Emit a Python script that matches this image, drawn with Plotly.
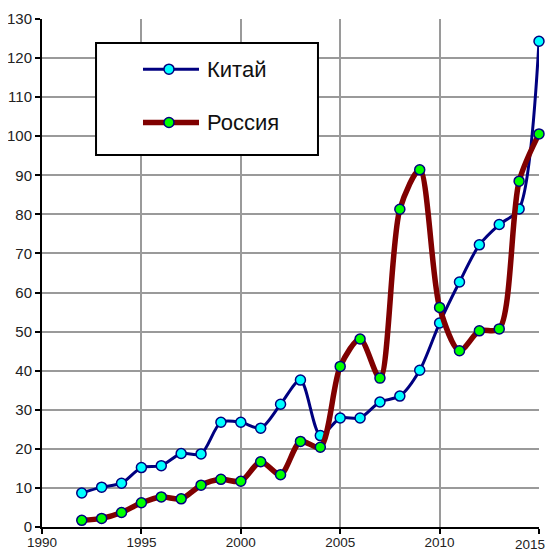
import plotly.graph_objects as go

years = list(range(1992, 2016))
china = [8.7, 10.2, 11.2, 15.2, 15.7, 18.8, 18.7, 26.8, 26.8, 25.3, 31.4, 37.6,
         23.4, 27.9, 27.9, 32.0, 33.5, 40.1, 52.2, 62.7, 72.2, 77.4, 81.4, 124.3]
russia = [1.7, 2.2, 3.7, 6.2, 7.7, 7.2, 10.7, 12.2, 11.7, 16.7, 13.4, 21.9,
          20.4, 41.1, 48.1, 38.1, 81.3, 91.4, 56.2, 45.1, 50.2, 50.7, 88.5, 100.6]
series_names = ["Китай", "Россия"]
line_colors = ["#000080", "#800000"]
line_widths = [3, 5.5]
marker_fills = ["#00FFFF", "#00FF00"]
x_ticks = [1990, 1995, 2000, 2005, 2010, 2015]
x_tick_labels = ["1990", "1995", "2000", "2005", "2010", "2015"]
y_ticks = list(range(0, 131, 10))

font = "Arial, Liberation Sans, sans-serif"
fig = go.Figure()
for name, vals, lc, lw, mf in zip(series_names, [china, russia], line_colors,
                                  line_widths, marker_fills):
    fig.add_trace(go.Scatter(
        x=years, y=vals, name=name, mode="lines+markers",
        line=dict(color=lc, width=lw, shape="spline", smoothing=0.8),
        marker=dict(symbol="circle", size=10, color=mf,
                    line=dict(color="#000080", width=1.5)),
        cliponaxis=False, showlegend=False))

# Manual legend (box, sample lines, marker circles, labels) in paper coords
shapes = [dict(type="rect", xref="paper", yref="paper",
               x0=0.1087, x1=0.5553, y0=0.7323, y1=0.9528,
               line=dict(color="black", width=2), fillcolor="white", layer="above")]
legend_y = [0.9012, 0.7963]
annotations = []
for name, lc, lw, mf, ly in zip(series_names, line_colors, line_widths,
                                marker_fills, legend_y):
    shapes.append(dict(type="line", xref="paper", yref="paper",
                       x0=0.2032, x1=0.3159, y0=ly, y1=ly,
                       line=dict(color=lc, width=lw), layer="above"))
    shapes.append(dict(type="circle", xref="paper", yref="paper",
                       xsizemode="pixel", ysizemode="pixel",
                       xanchor=0.2555, yanchor=ly, x0=-5, x1=5, y0=-5, y1=5,
                       fillcolor=mf, line=dict(color="#000080", width=1.5),
                       layer="above"))
    annotations.append(dict(xref="paper", yref="paper", x=0.3270, y=ly,
                            xanchor="left", yanchor="middle", text=name,
                            showarrow=False,
                            font=dict(size=22, color="#111", family=font)))

# last x label as annotation, right-aligned so it stays inside the window
annotations.append(dict(xref="x", yref="paper", x=x_ticks[-1], y=0,
                        xanchor="right", yanchor="top", yshift=-8, xshift=8,
                        text=x_tick_labels[-1], showarrow=False,
                        font=dict(size=13.5, color="#222", family=font)))

fig.update_layout(
    width=546, height=542,
    margin=dict(l=34, r=15, t=11, b=23),
    paper_bgcolor="white", plot_bgcolor="white",
    font=dict(family=font, size=15, color="#222"),
    showlegend=False,
    shapes=shapes, annotations=annotations,
    xaxis=dict(range=[1990, 2015], tickvals=x_ticks,
               ticktext=x_tick_labels[:-1] + [""], showgrid=True,
               gridcolor="#9a9a9a", gridwidth=2, showline=True,
               linecolor="black", linewidth=2, ticks="outside", ticklen=5,
               tickwidth=2, tickcolor="black", zeroline=False, automargin=False,
               ticklabelstandoff=-3,
               tickfont=dict(size=13.5, color="#222")),
    yaxis=dict(range=[0, 130], tickvals=y_ticks, showgrid=True,
               gridcolor="#9a9a9a", gridwidth=2, showline=True,
               linecolor="black", linewidth=2, ticks="outside", ticklen=5,
               tickwidth=2, tickcolor="black", zeroline=False, automargin=False,
               tickfont=dict(size=15, color="#222")),
)
fig.write_html("out.html")
